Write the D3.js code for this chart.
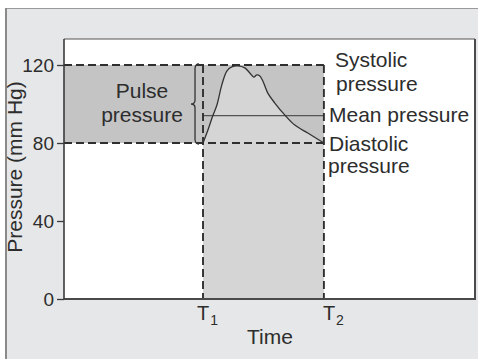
<!DOCTYPE html>
<html>
<head>
<meta charset="utf-8">
<script src="https://cdn.jsdelivr.net/npm/d3@7/dist/d3.min.js"></script>
<style>
  html, body { margin: 0; padding: 0; background: #ffffff; }
  svg { display: block; font-family: "Liberation Sans", Arial, Helvetica, sans-serif; }
</style>
</head>
<body>
<svg id="chart" width="478" height="359"></svg>
<script>
// Arterial pressure over one cardiac cycle (T1 to T2)
const timePoints = [1.15, 1.19, 1.23, 1.265, 1.305, 1.347, 1.388, 1.438, 1.496, 1.537, 1.57, 1.595, 1.62, 1.645, 1.686, 1.744, 1.826, 1.909, 2.017, 2.15];
const pressure   = [80, 86.5, 93.8, 99.5, 109.7, 116.9, 119.0, 119.5, 118.5, 115.9, 113.8, 114.9, 114.4, 111.8, 105.6, 100.5, 94.4, 89.2, 85.1, 80];

const systolic = 120;
const diastolic = 80;
const meanPressure = 94;
const cycleStart = 1.15;   // T1
const cycleEnd = 2.15;     // T2

const yTicks = [0, 40, 80, 120];
const timeTickLabels = [{ t: cycleStart, name: "T", sub: "1" }, { t: cycleEnd, name: "T", sub: "2" }];

const svg = d3.select("#chart");
const W = 478, H = 359;
const margin = { top: 39, left: 64 };
const pw = 411, ph = 260;
const ink = "#2d2d2d";

// outer panel
svg.append("rect").attr("x", 6).attr("y", 8.5).attr("width", W).attr("height", H)
  .attr("fill", "#e6e7e8").attr("stroke", "none");
svg.append("line").attr("x1", 6).attr("x2", W).attr("y1", 8.5).attr("y2", 8.5)
  .attr("stroke", "#9a9a9a").attr("stroke-width", 1);
svg.append("line").attr("x1", 6).attr("x2", 6).attr("y1", 8).attr("y2", H)
  .attr("stroke", "#8a8a8a").attr("stroke-width", 2);

const g = svg.append("g").attr("transform", `translate(${margin.left},${margin.top})`);

const x = d3.scaleLinear().domain([0, 3.4]).range([0, pw]);
const y = d3.scaleLinear().domain([0, 120]).range([ph, 26]);

// plot area
g.append("rect").attr("x", 0).attr("y", 0).attr("width", pw).attr("height", ph).attr("fill", "#ffffff");

// pulse pressure band
g.append("rect")
  .attr("x", x(0)).attr("y", y(systolic))
  .attr("width", x(cycleEnd) - x(0)).attr("height", y(diastolic) - y(systolic))
  .attr("fill", "#c4c4c4");

// cycle column below diastolic
g.append("rect")
  .attr("x", x(cycleStart)).attr("y", y(diastolic))
  .attr("width", x(cycleEnd) - x(cycleStart)).attr("height", y(0) - y(diastolic))
  .attr("fill", "#d5d5d5");

const series = timePoints.map((t, i) => ({ t, p: pressure[i] }));
const curve = d3.curveCatmullRom.alpha(0.5);

// area under the pressure curve
g.append("path").datum(series)
  .attr("d", d3.area().x(d => x(d.t)).y0(y(diastolic)).y1(d => y(d.p)).curve(curve))
  .attr("fill", "#d5d5d5");

// mean pressure line
g.append("line")
  .attr("x1", x(cycleStart)).attr("x2", x(cycleEnd))
  .attr("y1", y(meanPressure)).attr("y2", y(meanPressure))
  .attr("stroke", "#555").attr("stroke-width", 1.2);

// pressure curve
g.append("path").datum(series)
  .attr("d", d3.line().x(d => x(d.t)).y(d => y(d.p)).curve(curve))
  .attr("fill", "none").attr("stroke", "#333").attr("stroke-width", 1.3);

// dashed guides
const dash = { stroke: "#2f2f2f", width: 1.9, array: "8,4" };
[systolic, diastolic].forEach(v => {
  g.append("line").attr("x1", x(0)).attr("x2", x(cycleEnd)).attr("y1", y(v)).attr("y2", y(v))
    .attr("stroke", dash.stroke).attr("stroke-width", dash.width).attr("stroke-dasharray", dash.array);
});
[cycleStart, cycleEnd].forEach(t => {
  g.append("line").attr("x1", x(t)).attr("x2", x(t)).attr("y1", y(systolic)).attr("y2", y(0))
    .attr("stroke", dash.stroke).attr("stroke-width", dash.width).attr("stroke-dasharray", dash.array);
});

// curly brace spanning the pulse pressure
{
  const bx = x(cycleStart) - 8, yt = y(systolic), yb = y(diastolic), ym = (yt + yb) / 2;
  const p = d3.path();
  p.moveTo(bx + 4, yt - 1);
  p.quadraticCurveTo(bx, yt - 1, bx, yt + 4);
  p.lineTo(bx, ym - 4);
  p.quadraticCurveTo(bx, ym, bx - 4, ym);
  p.quadraticCurveTo(bx, ym, bx, ym + 4);
  p.lineTo(bx, yb - 4);
  p.quadraticCurveTo(bx, yb + 1, bx + 4, yb + 1);
  g.append("path").attr("d", p.toString()).attr("fill", "none")
    .attr("stroke", "#333").attr("stroke-width", 1.3);
}

// frame: top and right edges
g.append("line").attr("x1", 0).attr("x2", pw).attr("y1", 0).attr("y2", 0)
  .attr("stroke", "#555").attr("stroke-width", 1.2);
g.append("line").attr("x1", pw).attr("x2", pw).attr("y1", 0).attr("y2", ph + 1)
  .attr("stroke", "#4a4a4a").attr("stroke-width", 2);
// bottom axis line
g.append("line").attr("x1", 0).attr("x2", pw + 1).attr("y1", ph).attr("y2", ph)
  .attr("stroke", "#4a4a4a").attr("stroke-width", 2);

// y axis
const yAxis = g.append("g")
  .call(d3.axisLeft(y).tickValues(yTicks).tickSize(7).tickPadding(3).tickSizeOuter(0));
yAxis.select(".domain").attr("d", `M0,0V${ph}`).attr("stroke", "#3a3a3a").attr("stroke-width", 1.6);
yAxis.selectAll(".tick line").attr("stroke", "#3a3a3a").attr("stroke-width", 1.3);
yAxis.selectAll(".tick text").attr("font-size", 19).attr("fill", ink)
  .attr("font-family", "'Liberation Sans', Arial, sans-serif").attr("dy", "0.36em");

// y axis title
g.append("text")
  .attr("transform", `translate(${-42},${ph / 2 - 2}) rotate(-90)`)
  .attr("text-anchor", "middle").attr("font-size", 21).attr("fill", ink)
  .text("Pressure (mm Hg)");

// time tick labels
timeTickLabels.forEach((d, i) => {
  const t = g.append("text")
    .attr("x", x(d.t) - (i === 0 ? 6 : 1)).attr("y", ph + 21)
    .attr("font-size", 20).attr("fill", ink);
  t.append("tspan").text(d.name);
  t.append("tspan").attr("dy", 5).attr("font-size", 14).attr("dx", 1).text(d.sub);
});

// x axis title
g.append("text").attr("x", 206).attr("y", ph + 45)
  .attr("text-anchor", "middle").attr("font-size", 21).attr("fill", ink)
  .text("Time");

// band label
const pulseLabel = g.append("text").attr("text-anchor", "middle").attr("font-size", 21).attr("fill", ink);
pulseLabel.append("tspan").attr("x", 78).attr("y", 59).text("Pulse");
pulseLabel.append("tspan").attr("x", 78).attr("y", 83).text("pressure");

// right-hand annotations
const ann = g.append("g").attr("font-size", 21).attr("fill", ink);
const sys = ann.append("text");
sys.append("tspan").attr("x", 271).attr("y", 28).text("Systolic");
sys.append("tspan").attr("x", 272).attr("y", 52).text("pressure");
ann.append("text").attr("x", 265).attr("y", 82.5).text("Mean pressure");
const dia = ann.append("text");
dia.append("tspan").attr("x", 265).attr("y", 112).text("Diastolic");
dia.append("tspan").attr("x", 264).attr("y", 134).text("pressure");
</script>
</body>
</html>
